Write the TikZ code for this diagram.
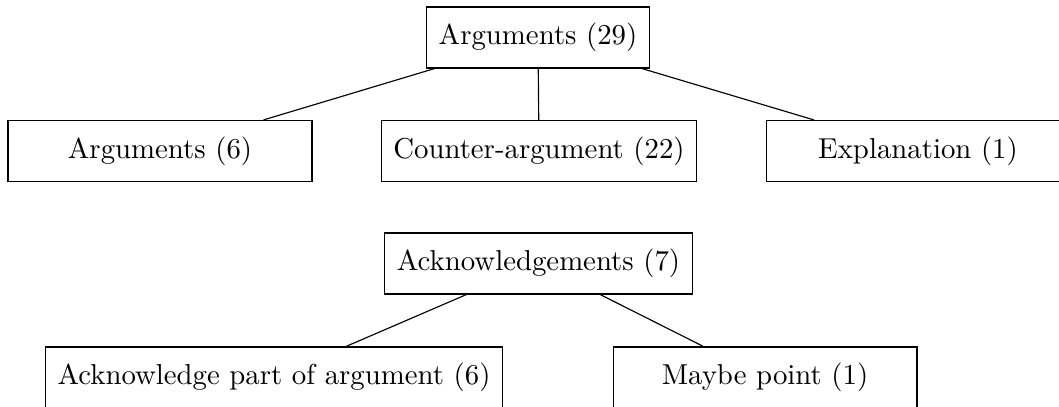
\documentclass[tikz,border=0pt]{standalone}
\begin{document}
\begin{tikzpicture}[x=0.3472pt,y=-0.3472pt,
  box/.style={draw,rectangle,minimum height=21.2pt,inner xsep=4.2pt,inner ysep=3.4pt},
  widebox/.style={box,minimum width=105.5pt},
  link/.style={draw}]
\useasboundingbox (0,0) rectangle (1059,407);
% upper tree
\node[box,minimum width=76.5pt] (args) at (538,37.5) {Arguments (29)};
\node[widebox] (argsix) at (160,151) {Arguments (6)};
\node[box] (counter) at (539,151) {Counter-argument (22)};
\node[widebox] (expl) at (918,151) {Explanation (1)};
\draw[link] (args) -- (argsix);
\draw[link] (args) -- (counter);
\draw[link] (args) -- (expl);
% lower tree
\node[box] (ack) at (538.5,263.5) {Acknowledgements (7)};
\node[box] (ackpart) at (274,377.5) {Acknowledge part of argument (6)};
\node[widebox] (maybe) at (765,377.5) {Maybe point (1)};
\draw[link] (ack) -- (ackpart);
\draw[link] (ack) -- (maybe);
\end{tikzpicture}
\end{document}
